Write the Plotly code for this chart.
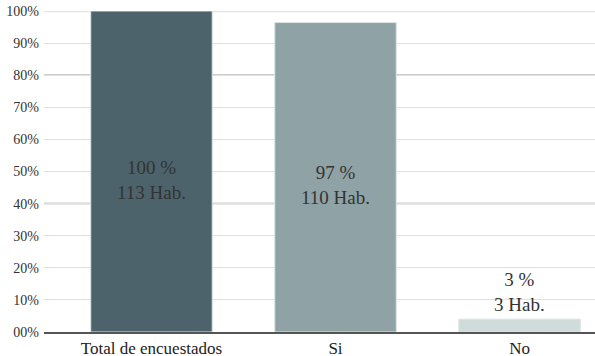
import plotly.graph_objects as go

categories = ["Total de encuestados", "Si", "No"]
values = [100, 96.4, 4.0]
pct_labels = ["100 %", "97 %", "3 %"]
hab_labels = ["113 Hab.", "110 Hab.", "3 Hab."]
bar_colors = ["#4c636b", "#8fa2a5", "#d0dcdc"]
tick_vals = [0, 10, 20, 30, 40, 50, 60, 70, 80, 90, 100]
tick_text = ["00%", "10%", "20%", "30%", "40%", "50%", "60%", "70%", "80%", "90%", "100%"]
dark_lines = [40, 80]

FONT = "Liberation Serif"

texts = [f"{p}<br>{h}" for p, h in zip(pct_labels, hab_labels)]

fig = go.Figure()
fig.add_trace(go.Bar(
    x=categories, y=values,
    marker=dict(color=bar_colors, line=dict(color="#dde3e3", width=1)),
    width=0.66,
    hoverinfo="skip",
))

# labels: inside (centred, slightly low) for tall bars, above for short bars
for cat, val, txt in zip(categories, values, texts):
    if val > 20:
        fig.add_annotation(x=cat, y=val / 2, text=txt, showarrow=False,
                           yanchor="middle", yshift=-8,
                           font=dict(family=FONT, size=19, color="#333333"))
    else:
        fig.add_annotation(x=cat, y=val, text=txt, showarrow=False,
                           yanchor="bottom", yshift=2,
                           font=dict(family=FONT, size=19, color="#333333"))

for v in dark_lines:
    fig.add_shape(type="line", xref="paper", yref="y", x0=0, x1=1, y0=v, y1=v,
                  line=dict(color="#999999", width=1.5), layer="below")
fig.add_shape(type="line", xref="paper", yref="y", x0=0, x1=1, y0=100, y1=100,
              line=dict(color="#e2e2e2", width=2.5), layer="below")

fig.update_layout(
    width=595, height=356,
    margin=dict(l=44, r=0, t=11, b=24, autoexpand=False),
    paper_bgcolor="white", plot_bgcolor="white",
    showlegend=False,
    font=dict(family=FONT, color="#333333"),
)
fig.update_xaxes(
    range=[-0.584, 2.41], automargin=False,
    showgrid=False, showline=True, linecolor="#555555", linewidth=2,
    ticks="", tickfont=dict(family=FONT, size=17, color="#222222"),
    ticklabelstandoff=0,
)
fig.update_yaxes(
    range=[0, 100], tickvals=tick_vals, ticktext=tick_text, automargin=False,
    showgrid=True, gridcolor="#e0e0e0", gridwidth=1,
    zeroline=False, showline=False, ticks="",
    tickfont=dict(family=FONT, size=14, color="#333333"),
    ticklabelstandoff=4,
)

fig.write_html("out.html", config={"displayModeBar": False},
               post_script="document.body.style.margin='0';")
